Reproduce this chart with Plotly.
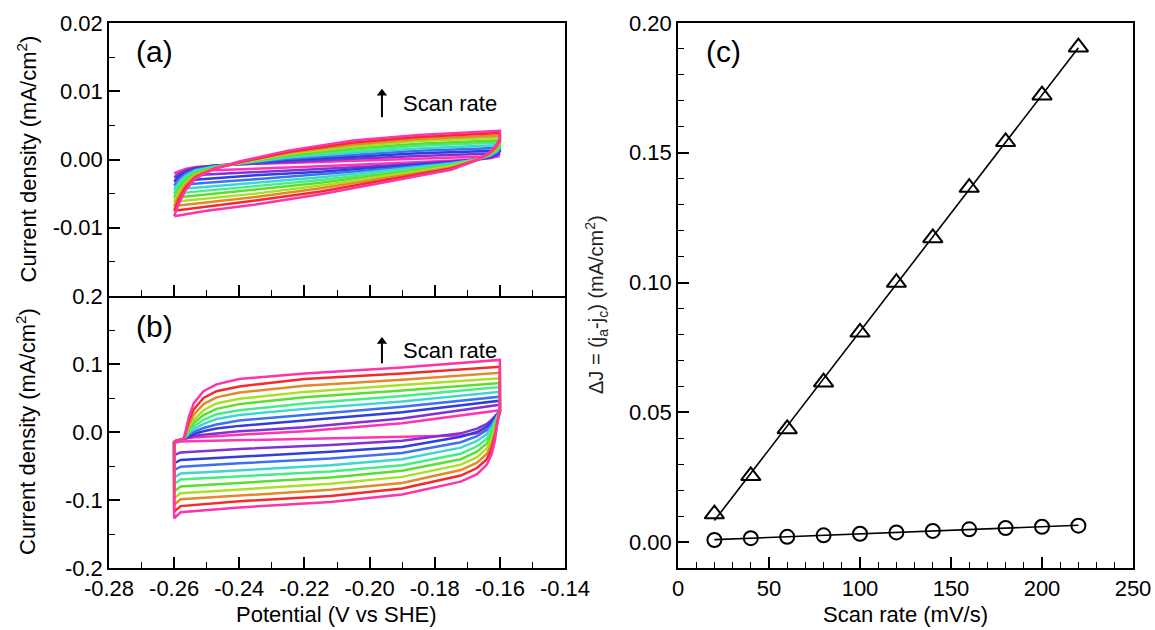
import numpy as np
import plotly.graph_objects as go

# ---------------- data ----------------
scan_rates = [20, 40, 60, 80, 100, 120, 140, 160, 180, 200, 220]  # mV/s

curve_colors = ["#FF33B4", "#8032D6", "#2F3FD8", "#3F70F0", "#3FD6D2", "#46EC86",
                "#5CDE30", "#A8E024", "#E08A2C", "#F52A2A", "#FF33AA"]

# (a) cyclic voltammograms, forward (anodic) and reverse (cathodic) sweeps
pot_fwd_a = [-0.2600, -0.2585, -0.2565, -0.2535, -0.2480, -0.2400, -0.2250, -0.2050, -0.1850, -0.1600]
pot_rev_a = [-0.1600, -0.1610, -0.1630, -0.1670, -0.1750, -0.1950, -0.2150, -0.2350, -0.2500, -0.2600]
j_fwd_a = [
    [-0.0020, -0.0017, -0.0014, -0.0011, -0.0009, -0.0007, -0.0005, -0.0002, 0.0002, 0.0005],
    [-0.0026, -0.0021, -0.0016, -0.0012, -0.0009, -0.0007, -0.0003, 0.0001, 0.0005, 0.0009],
    [-0.0032, -0.0025, -0.0018, -0.0013, -0.0009, -0.0006, -0.0001, 0.0004, 0.0009, 0.0013],
    [-0.0038, -0.0029, -0.0021, -0.0015, -0.0010, -0.0006, 0.0001, 0.0007, 0.0013, 0.0017],
    [-0.0044, -0.0033, -0.0024, -0.0016, -0.0011, -0.0006, 0.0003, 0.0010, 0.0016, 0.0021],
    [-0.0050, -0.0037, -0.0027, -0.0018, -0.0011, -0.0005, 0.0005, 0.0013, 0.0020, 0.0025],
    [-0.0056, -0.0042, -0.0030, -0.0020, -0.0012, -0.0005, 0.0006, 0.0016, 0.0023, 0.0028],
    [-0.0062, -0.0047, -0.0034, -0.0022, -0.0013, -0.0005, 0.0008, 0.0019, 0.0027, 0.0032],
    [-0.0068, -0.0052, -0.0037, -0.0024, -0.0013, -0.0004, 0.0010, 0.0022, 0.0030, 0.0035],
    [-0.0075, -0.0058, -0.0041, -0.0026, -0.0014, -0.0004, 0.0011, 0.0025, 0.0033, 0.0039],
    [-0.0083, -0.0064, -0.0045, -0.0028, -0.0014, -0.0003, 0.0013, 0.0028, 0.0036, 0.0042],
]
j_rev_a = [
    [0.0005, 0.0004, 0.0002, 0.0000, -0.0002, -0.0006, -0.0010, -0.0013, -0.0016, -0.0020],
    [0.0009, 0.0006, 0.0003, 0.0000, -0.0003, -0.0009, -0.0014, -0.0018, -0.0022, -0.0026],
    [0.0012, 0.0008, 0.0004, 0.0000, -0.0004, -0.0011, -0.0018, -0.0023, -0.0028, -0.0032],
    [0.0015, 0.0010, 0.0005, 0.0000, -0.0005, -0.0014, -0.0022, -0.0029, -0.0034, -0.0038],
    [0.0018, 0.0012, 0.0006, 0.0000, -0.0006, -0.0016, -0.0026, -0.0034, -0.0040, -0.0044],
    [0.0020, 0.0014, 0.0007, 0.0000, -0.0008, -0.0019, -0.0030, -0.0039, -0.0045, -0.0050],
    [0.0022, 0.0015, 0.0007, 0.0000, -0.0009, -0.0021, -0.0034, -0.0044, -0.0051, -0.0056],
    [0.0024, 0.0017, 0.0008, 0.0000, -0.0010, -0.0024, -0.0038, -0.0050, -0.0057, -0.0062],
    [0.0026, 0.0018, 0.0009, 0.0000, -0.0012, -0.0027, -0.0042, -0.0055, -0.0063, -0.0068],
    [0.0028, 0.0020, 0.0010, -0.0001, -0.0013, -0.0030, -0.0047, -0.0060, -0.0069, -0.0075],
    [0.0030, 0.0022, 0.0011, -0.0001, -0.0015, -0.0033, -0.0051, -0.0066, -0.0075, -0.0083],
]

# (b) cyclic voltammograms
pot_fwd_b = [-0.2600, -0.2570, -0.2555, -0.2540, -0.2510, -0.2470, -0.2400, -0.2200, -0.1900, -0.1600]
pot_rev_b = [-0.1600, -0.1608, -0.1615, -0.1625, -0.1640, -0.1670, -0.1720, -0.1900, -0.2120, -0.2400, -0.2580, -0.2600]
j_fwd_b = [
    [-0.014, -0.010, -0.009, -0.008, -0.007, -0.006, -0.004, 0.001, 0.013, 0.032],
    [-0.014, -0.010, -0.008, -0.006, -0.004, -0.002, 0.001, 0.007, 0.020, 0.040],
    [-0.014, -0.010, -0.006, -0.003, 0.001, 0.005, 0.009, 0.017, 0.029, 0.046],
    [-0.014, -0.010, -0.004, 0.000, 0.006, 0.011, 0.017, 0.025, 0.037, 0.052],
    [-0.014, -0.010, -0.002, 0.004, 0.012, 0.019, 0.025, 0.034, 0.045, 0.059],
    [-0.014, -0.010, 0.001, 0.008, 0.018, 0.026, 0.032, 0.042, 0.053, 0.066],
    [-0.014, -0.010, 0.004, 0.013, 0.025, 0.034, 0.041, 0.051, 0.061, 0.072],
    [-0.014, -0.010, 0.007, 0.018, 0.032, 0.042, 0.049, 0.059, 0.069, 0.079],
    [-0.014, -0.010, 0.011, 0.025, 0.041, 0.051, 0.058, 0.068, 0.077, 0.087],
    [-0.014, -0.010, 0.016, 0.033, 0.050, 0.060, 0.067, 0.078, 0.086, 0.096],
    [-0.014, -0.010, 0.022, 0.042, 0.060, 0.070, 0.078, 0.086, 0.095, 0.106],
]
j_rev_b = [
    [0.030, 0.026, 0.020, 0.012, 0.004, -0.002, -0.005, -0.007, -0.009, -0.012, -0.014, -0.016],
    [0.030, 0.027, 0.023, 0.018, 0.012, 0.005, -0.002, -0.013, -0.019, -0.025, -0.030, -0.034],
    [0.030, 0.026, 0.021, 0.015, 0.008, 0.000, -0.007, -0.022, -0.029, -0.036, -0.041, -0.046],
    [0.030, 0.025, 0.018, 0.011, 0.003, -0.006, -0.015, -0.031, -0.039, -0.046, -0.051, -0.056],
    [0.030, 0.023, 0.015, 0.007, -0.003, -0.013, -0.023, -0.040, -0.049, -0.056, -0.061, -0.067],
    [0.030, 0.022, 0.012, 0.002, -0.010, -0.021, -0.032, -0.049, -0.058, -0.065, -0.070, -0.077],
    [0.030, 0.020, 0.008, -0.004, -0.017, -0.029, -0.040, -0.057, -0.067, -0.075, -0.080, -0.087],
    [0.030, 0.018, 0.004, -0.010, -0.024, -0.037, -0.048, -0.066, -0.076, -0.084, -0.090, -0.097],
    [0.030, 0.016, -0.001, -0.017, -0.032, -0.045, -0.056, -0.075, -0.085, -0.093, -0.099, -0.107],
    [0.030, 0.014, -0.006, -0.024, -0.040, -0.053, -0.064, -0.083, -0.094, -0.102, -0.109, -0.117],
    [0.030, 0.012, -0.012, -0.032, -0.048, -0.062, -0.073, -0.092, -0.103, -0.111, -0.118, -0.127],
]

# (c) delta J = ja - jc versus scan rate
delta_j_b = [0.0108, 0.0255, 0.0436, 0.0616, 0.0808, 0.1000, 0.1172, 0.1366, 0.1542, 0.1722, 0.1907]
delta_j_a = [0.0008, 0.0015, 0.0020, 0.0026, 0.0032, 0.0037, 0.0043, 0.0049, 0.0054, 0.0059, 0.0063]

# tick labels
pot_ticks = [-0.28, -0.26, -0.24, -0.22, -0.20, -0.18, -0.16, -0.14]
pot_tick_text = ["-0.28", "-0.26", "-0.24", "-0.22", "-0.20", "-0.18", "-0.16", "-0.14"]
ja_ticks = [-0.01, 0.0, 0.01, 0.02]
ja_tick_text = ["-0.01", "0.00", "0.01", "0.02"]
jb_ticks = [-0.2, -0.1, 0.0, 0.1, 0.2]
jb_tick_text = ["-0.2", "-0.1", "0.0", "0.1", "0.2"]
rate_ticks = [0, 50, 100, 150, 200, 250]
dj_ticks = [0.0, 0.05, 0.10, 0.15, 0.20]
dj_tick_text = ["0.00", "0.05", "0.10", "0.15", "0.20"]

# ---------------- figure ----------------
W, H = 1155, 630
FONT = "Liberation Sans, Arial, sans-serif"

fig = go.Figure()


def add_cv(pot_fwd, pot_rev, j_fwd, j_rev, xa, ya):
    for k in range(len(scan_rates)):
        xs = list(pot_fwd) + list(pot_rev) + [pot_fwd[0]]
        ys = list(j_fwd[k]) + list(j_rev[k]) + [j_fwd[k][0]]
        fig.add_trace(go.Scatter(x=xs, y=ys, mode="lines", xaxis=xa, yaxis=ya,
                                 line=dict(color=curve_colors[k], width=2.5),
                                 name=f"{scan_rates[k]} mV/s", showlegend=False))


add_cv(pot_fwd_a, pot_rev_a, j_fwd_a, j_rev_a, "x", "y")
add_cv(pot_fwd_b, pot_rev_b, j_fwd_b, j_rev_b, "x2", "y2")

# (c) linear fits and measured points
rates = np.array(scan_rates, dtype=float)
for dj, sym, msize in [(delta_j_b, "triangle-up-open", 17), (delta_j_a, "circle-open", 14)]:
    slope, icpt = np.polyfit(rates, dj, 1)
    xfit = np.array([rates.min(), rates.max()])
    fig.add_trace(go.Scatter(x=xfit, y=slope * xfit + icpt, mode="lines",
                             xaxis="x3", yaxis="y3", showlegend=False,
                             line=dict(color="black", width=1.6)))
    fig.add_trace(go.Scatter(x=scan_rates, y=dj, mode="markers", xaxis="x3", yaxis="y3",
                             showlegend=False,
                             marker=dict(symbol=sym, size=msize, color="black",
                                         line=dict(color="black", width=2))))

# scan-rate arrows: stem as a line, head as a marker
arrow_x = -0.1962
arrow_specs = [("x", "y", 0.0062, 0.0097), ("x2", "y2", 0.101, 0.133)]
for xa, ya, y_tail, y_head in arrow_specs:
    fig.add_trace(go.Scatter(x=[arrow_x, arrow_x], y=[y_tail, y_head], mode="lines",
                             xaxis=xa, yaxis=ya, showlegend=False,
                             line=dict(color="black", width=2)))
    fig.add_trace(go.Scatter(x=[arrow_x], y=[y_head], mode="markers", xaxis=xa, yaxis=ya,
                             showlegend=False,
                             marker=dict(symbol="triangle-up", size=9, color="black")))

# panel geometry (paper fractions)
left_ab, right_ab = 109 / W, 565 / W
left_c, right_c = 678 / W, 1133 / W
top, mid, bottom = 1 - 23 / H, 1 - 296 / H, 1 - 568 / H

axis_common = dict(showline=True, linecolor="black", linewidth=1.6, mirror=True,
                   ticks="inside", ticklen=11, tickwidth=1.6, tickcolor="black",
                   showgrid=False, zeroline=False, automargin=False,
                   tickfont=dict(family=FONT, size=22, color="black"))
minor_common = dict(ticks="inside", ticklen=6, tickwidth=1.4, tickcolor="black")

fig.update_layout(
    template="none",
    width=W, height=H,
    margin=dict(l=0, r=0, t=0, b=0, pad=0, autoexpand=False),
    paper_bgcolor="white", plot_bgcolor="white",
    font=dict(family=FONT, size=22, color="black"),
    xaxis=dict(axis_common, domain=[left_ab, right_ab], anchor="y", range=[-0.28, -0.14],
               tickmode="array", tickvals=pot_ticks, showticklabels=False,
               minor=dict(minor_common, tickmode="linear", tick0=-0.28, dtick=0.01)),
    yaxis=dict(axis_common, domain=[mid, top], anchor="x", range=[-0.02, 0.02],
               tickmode="array", tickvals=ja_ticks, ticktext=ja_tick_text,
               minor=dict(minor_common, tickmode="linear", tick0=0, dtick=0.005)),
    # the shared border with panel (a) is drawn once, by panel (a)'s bottom axis
    xaxis2=dict(axis_common, mirror=False, domain=[left_ab, right_ab], anchor="y2",
                range=[-0.28, -0.14],
                tickmode="array", tickvals=pot_ticks, ticktext=pot_tick_text,
                minor=dict(minor_common, tickmode="linear", tick0=-0.28, dtick=0.01)),
    yaxis2=dict(axis_common, domain=[bottom, mid], anchor="x2", range=[-0.2, 0.2],
                tickmode="array", tickvals=jb_ticks, ticktext=jb_tick_text,
                minor=dict(minor_common, tickmode="linear", tick0=0, dtick=0.05)),
    xaxis3=dict(axis_common, domain=[left_c, right_c], anchor="y3", range=[0, 250],
                tickmode="array", tickvals=rate_ticks,
                minor=dict(minor_common, tickmode="linear", tick0=0, dtick=10)),
    yaxis3=dict(axis_common, domain=[bottom, top], anchor="x3", range=[-0.01, 0.20],
                tickmode="array", tickvals=dj_ticks, ticktext=dj_tick_text,
                minor=dict(minor_common, tickmode="linear", tick0=0, dtick=0.01)),
)

ann = []
title_font = dict(family=FONT, size=22, color="black")
ann.append(dict(text="Current density (mA/cm<sup>2</sup>)", xref="paper", yref="paper",
                x=26 / W, y=(top + mid) / 2, textangle=-90, showarrow=False,
                xanchor="center", yanchor="middle", font=title_font))
ann.append(dict(text="Current density (mA/cm<sup>2</sup>)", xref="paper", yref="paper",
                x=26 / W, y=(mid + bottom) / 2, textangle=-90, showarrow=False,
                xanchor="center", yanchor="middle", font=title_font))
ann.append(dict(text="ΔJ = (j<sub>a</sub>-j<sub>c</sub>) (mA/cm<sup>2</sup>)", xref="paper",
                yref="paper", x=596 / W, y=1 - 305 / H, textangle=-90, showarrow=False,
                xanchor="center", yanchor="middle",
                font=dict(family=FONT, size=20, color="#222222")))
ann.append(dict(text="Potential (V vs SHE)", xref="paper", yref="paper",
                x=(left_ab + right_ab) / 2, y=1 - 614 / H, showarrow=False,
                xanchor="center", yanchor="middle", font=title_font))
ann.append(dict(text="Scan rate (mV/s)", xref="paper", yref="paper",
                x=(left_c + right_c) / 2, y=1 - 614 / H, showarrow=False,
                xanchor="center", yanchor="middle", font=title_font))

# panel letters
ann.append(dict(text="(a)", xref="x", yref="y", x=-0.266, y=0.0158, showarrow=False,
                font=dict(family=FONT, size=30, color="black")))
ann.append(dict(text="(b)", xref="x2", yref="y2", x=-0.266, y=0.155, showarrow=False,
                font=dict(family=FONT, size=30, color="black")))
ann.append(dict(text="(c)", xref="x3", yref="y3", x=25, y=0.189, showarrow=False,
                font=dict(family=FONT, size=30, color="black")))

# scan-rate labels
for xr, yr, y_txt in [("x", "y", 0.0082), ("x2", "y2", 0.120)]:
    ann.append(dict(text="Scan rate", xref=xr, yref=yr, x=-0.1905, y=y_txt, showarrow=False,
                    xanchor="left", yanchor="middle",
                    font=dict(family=FONT, size=22, color="black")))

fig.update_layout(annotations=ann)

fig.write_html("out.html")
